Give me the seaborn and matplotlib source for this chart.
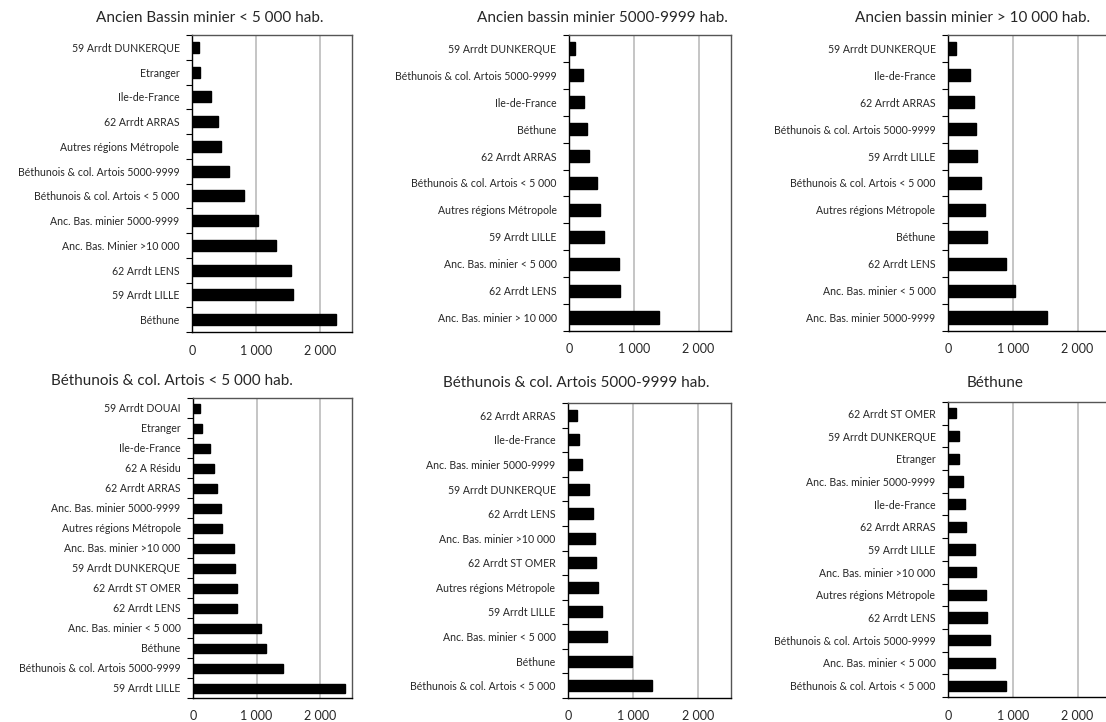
import matplotlib
matplotlib.use("Agg")
import matplotlib.pyplot as plt
import seaborn as sns
import pandas as pd

sns.set_theme(style="white")
plt.rcParams['font.family'] = ['Lato', 'DejaVu Sans']

title1 = "Ancien Bassin minier < 5 000 hab."
cats1 = ["59 Arrdt DUNKERQUE", "Etranger", "Ile-de-France", "62 Arrdt ARRAS", "Autres régions Métropole",
         "Béthunois & col. Artois 5000-9999", "Béthunois & col. Artois < 5 000", "Anc. Bas. minier 5000-9999",
         "Anc. Bas. Minier >10 000", "62 Arrdt LENS", "59 Arrdt LILLE", "Béthune"]
vals1 = [115, 130, 290, 405, 460, 575, 805, 1035, 1310, 1545, 1580, 2255]

title2 = "Ancien bassin minier 5000-9999 hab."
cats2 = ["59 Arrdt DUNKERQUE", "Béthunois & col. Artois 5000-9999", "Ile-de-France", "Béthune", "62 Arrdt ARRAS",
         "Béthunois & col. Artois < 5 000", "Autres régions Métropole", "59 Arrdt LILLE",
         "Anc. Bas. minier < 5 000", "62 Arrdt LENS", "Anc. Bas. minier > 10 000"]
vals2 = [100, 218, 233, 285, 305, 435, 477, 540, 767, 793, 1389]

title3 = "Ancien bassin minier > 10 000 hab."
cats3 = ["59 Arrdt DUNKERQUE", "Ile-de-France", "62 Arrdt ARRAS", "Béthunois & col. Artois 5000-9999",
         "59 Arrdt LILLE", "Béthunois & col. Artois < 5 000", "Autres régions Métropole", "Béthune",
         "62 Arrdt LENS", "Anc. Bas. minier < 5 000", "Anc. Bas. minier 5000-9999"]
vals3 = [120, 338, 395, 426, 442, 504, 571, 597, 893, 1034, 1532]

title4 = "Béthunois & col. Artois < 5 000 hab."
cats4 = ["59 Arrdt DOUAI", "Etranger", "Ile-de-France", "62 A Résidu", "62 Arrdt ARRAS",
         "Anc. Bas. minier 5000-9999", "Autres régions Métropole", "Anc. Bas. minier >10 000",
         "59 Arrdt DUNKERQUE", "62 Arrdt ST OMER", "62 Arrdt LENS", "Anc. Bas. minier < 5 000",
         "Béthune", "Béthunois & col. Artois 5000-9999", "59 Arrdt LILLE"]
vals4 = [115, 136, 262, 325, 377, 440, 461, 639, 660, 691, 695, 1063, 1152, 1408, 2393]

title5 = "Béthunois & col. Artois 5000-9999 hab."
cats5 = ["62 Arrdt ARRAS", "Ile-de-France", "Anc. Bas. minier 5000-9999", "59 Arrdt DUNKERQUE",
         "62 Arrdt LENS", "Anc. Bas. minier >10 000", "62 Arrdt ST OMER", "Autres régions Métropole",
         "59 Arrdt LILLE", "Anc. Bas. minier < 5 000", "Béthune", "Béthunois & col. Artois < 5 000"]
vals5 = [133, 168, 214, 327, 383, 413, 429, 459, 515, 597, 974, 1286]

title6 = "Béthune"
cats6 = ["62 Arrdt ST OMER", "59 Arrdt DUNKERQUE", "Etranger", "Anc. Bas. minier 5000-9999",
         "Ile-de-France", "62 Arrdt ARRAS", "59 Arrdt LILLE", "Anc. Bas. minier >10 000",
         "Autres régions Métropole", "62 Arrdt LENS", "Béthunois & col. Artois 5000-9999",
         "Anc. Bas. minier < 5 000", "Béthunois & col. Artois < 5 000"]
vals6 = [120, 171, 175, 234, 255, 275, 416, 426, 582, 597, 644, 732, 888]

xticks = [0, 1000, 2000]
xticklabels = ["0", "1 000", "2 000"]

W, H = 1106, 722
fig = plt.figure(figsize=(W / 100, H / 100), dpi=100)

panels = [
    (title1, cats1, vals1, (192, 35, 352, 332), (210, 18)),
    (title2, cats2, vals2, (569, 35, 731, 331), (602, 18)),
    (title3, cats3, vals3, (948, 35, 1110, 331), (973, 18)),
    (title4, cats4, vals4, (193, 398, 352, 698), (172, 381)),
    (title5, cats5, vals5, (568, 403, 731, 698), (576, 383)),
    (title6, cats6, vals6, (948, 402, 1110, 697), (995, 383)),
]

for title, cats, vals, (l, t, r, b), (tx, ty) in panels:
    ax = fig.add_axes([l / W, 1 - b / H, (r - l) / W, (b - t) / H])
    df = pd.DataFrame({"cat": cats, "val": vals})
    sns.barplot(data=df, y="cat", x="val", order=cats, color="black", orient="h",
                width=0.45, ax=ax, saturation=1)
    for p in ax.patches:
        p.set_edgecolor("black")
    ax.set_xlim(0, 2500)
    ax.set_ylim(len(cats) - 0.5, -0.5)
    ax.set_xticks(xticks)
    ax.set_xticklabels(xticklabels, fontsize=9)
    ax.set_yticks(range(len(cats)))
    ax.set_yticklabels(cats, fontsize=7.6)
    ax.set_xlabel("")
    ax.set_ylabel("")
    ax.grid(axis="x", color="#c0c0c0", linewidth=1.3)
    ax.set_axisbelow(True)
    ax.tick_params(axis="y", length=0, pad=9)
    ax.tick_params(axis="x", length=0, pad=9)
    ax.set_yticks([i + 0.5 for i in range(-1, len(cats))], minor=True)
    ax.tick_params(axis="y", which="minor", length=4, width=0.8, color="black", left=True)
    for s in ["left", "bottom"]:
        ax.spines[s].set_color("black")
        ax.spines[s].set_linewidth(1.0)
    for s in ["top", "right"]:
        ax.spines[s].set_color("#555555")
        ax.spines[s].set_linewidth(1.0)
    fig.text(tx / W, 1 - ty / H, title, ha="center", va="center", fontsize=11)

fig.savefig("out.png", dpi=100, facecolor="white")
